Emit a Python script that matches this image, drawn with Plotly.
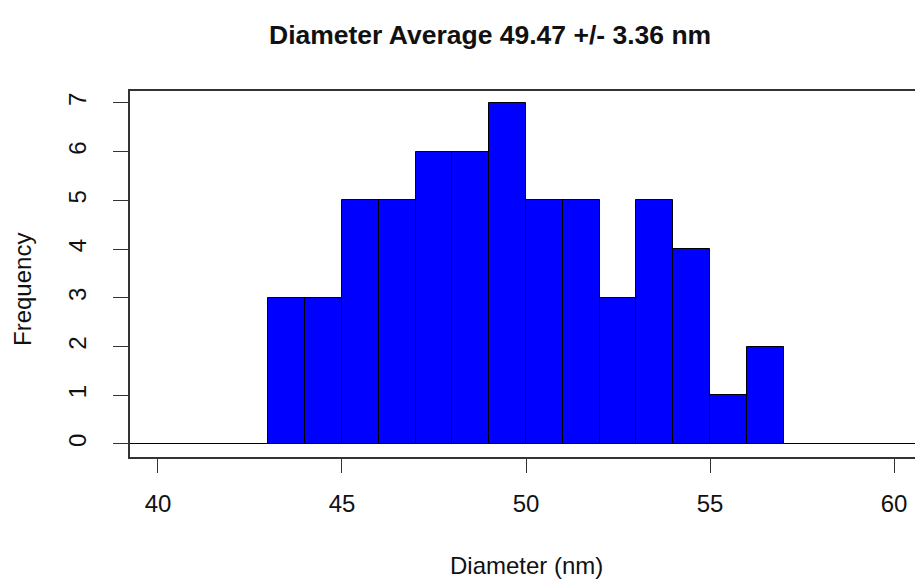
import plotly.graph_objects as go

# Data
bin_edges = [43, 44, 45, 46, 47, 48, 49, 50, 51, 52, 53, 54, 55, 56, 57]
counts = [3, 3, 5, 5, 6, 6, 7, 5, 5, 3, 5, 4, 1, 2]
x_tickvals = [40, 45, 50, 55, 60]
y_tickvals = [0, 1, 2, 3, 4, 5, 6, 7]
title_text = "Diameter Average 49.47 +/- 3.36 nm"
x_title = "Diameter (nm)"
y_title = "Frequency"

centers = [(bin_edges[i] + bin_edges[i + 1]) / 2 for i in range(len(counts))]
widths = [bin_edges[i + 1] - bin_edges[i] for i in range(len(counts))]

FONT = "Liberation Sans, Arial, Helvetica, sans-serif"
W, H = 915, 581
L, R, T, B = 130, 0, 91, 124

fig = go.Figure()
fig.add_trace(go.Bar(
    x=centers, y=counts, width=widths,
    marker=dict(color="#0000FF", line=dict(color="#000000", width=1)),
    showlegend=False, hoverinfo="x+y",
))

fig.update_layout(
    width=W, height=H,
    margin=dict(l=L, r=R, t=T, b=B, pad=0),
    paper_bgcolor="white", plot_bgcolor="white",
    font=dict(family=FONT, size=24, color="#111111"),
    bargap=0,
    xaxis=dict(
        range=[39.24, 60.57], tickvals=x_tickvals, ticks="outside", ticklen=14,
        tickwidth=1.2, tickcolor="#333333", showgrid=False, zeroline=False,
        showline=True, mirror=True, linecolor="#333333", linewidth=1.6,
        ticklabelstandoff=10, tickfont=dict(size=24, family=FONT, color="#111111"),
    ),
    yaxis=dict(
        range=[-0.267, 7.246], tickvals=y_tickvals, ticks="outside", ticklen=15,
        tickwidth=1.2, tickcolor="#333333", showgrid=False,
        zeroline=True, zerolinecolor="#000000", zerolinewidth=1.2,
        showline=True, mirror=False, linecolor="#333333", linewidth=1.6,
        tickangle=-90, ticklabelstandoff=18,
        tickfont=dict(size=24, family=FONT, color="#111111"),
    ),
)

pw = W - L - R
ph = H - T - B

def px_to_paper_x(px):
    return (px - L) / pw

def px_to_paper_y(py):
    return (H - B - py) / ph

fig.add_annotation(
    text="<b>" + title_text + "</b>", x=px_to_paper_x(490), y=px_to_paper_y(35),
    xref="paper", yref="paper", showarrow=False, xanchor="center", yanchor="middle",
    font=dict(size=26.5, family=FONT, color="#111111"),
)
fig.add_annotation(
    text=x_title, x=px_to_paper_x(526), y=px_to_paper_y(565),
    xref="paper", yref="paper", showarrow=False, xanchor="center", yanchor="middle",
    font=dict(size=24, family=FONT, color="#111111"),
)
fig.add_annotation(
    text=y_title, x=px_to_paper_x(22), y=px_to_paper_y(290), textangle=-90,
    xref="paper", yref="paper", showarrow=False, xanchor="center", yanchor="middle",
    font=dict(size=24, family=FONT, color="#111111"),
)

fig.write_html(
    "out.html",
    config={"displayModeBar": False},
    post_script="document.body.style.margin='0';document.body.style.overflow='hidden';",
)
